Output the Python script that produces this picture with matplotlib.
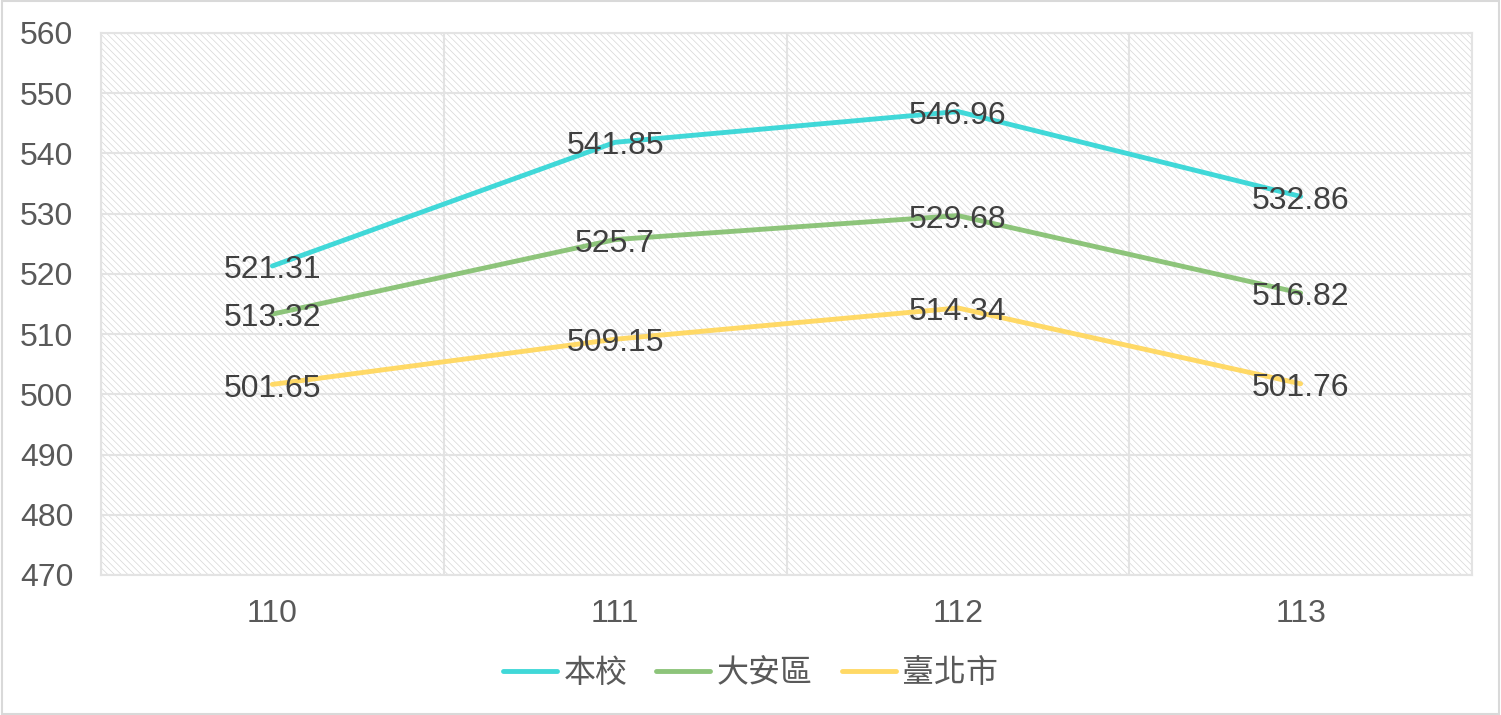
import matplotlib
matplotlib.use("Agg")
import matplotlib.pyplot as plt
from matplotlib.patches import Rectangle

plt.rcParams['font.family'] = ['Liberation Sans', 'Noto Sans CJK TC', 'DejaVu Sans']
plt.rcParams['hatch.color'] = '#d6d6d6'
plt.rcParams['hatch.linewidth'] = 0.5

# data
years = ['110', '111', '112', '113']
school = [521.31, 541.85, 546.96, 532.86]
daan = [513.32, 525.7, 529.68, 516.82]
taipei = [501.65, 509.15, 514.34, 501.76]
series_names = ['本校', '大安區', '臺北市']
colors = ['#40D8D8', '#8DC47A', '#FFD966']

fig = plt.figure(figsize=(15.01, 7.15), dpi=100)
ax = fig.add_axes([101 / 1501, 1 - 575 / 715, (1472 - 101) / 1501, (575 - 33) / 715])

# hatched background
ax.add_patch(Rectangle((0, 0), 1, 1, transform=ax.transAxes, facecolor='white',
                       edgecolor='#d6d6d6', hatch='\\\\\\\\\\', linewidth=0, zorder=0))

x = list(range(len(years)))
for vals, name, c in zip([school, daan, taipei], series_names, colors):
    ax.plot(x, vals, color=c, lw=3.5, label=name, zorder=3, solid_capstyle='round')
    for xi, v in zip(x, vals):
        ax.annotate(f'{v:g}', (xi, v), xytext=(0, -3), textcoords='offset points',
                    ha='center', va='center', fontsize=23, color='#404040', zorder=4)

ax.set_xlim(-0.5, 3.5)
ax.set_ylim(470, 560)
ax.set_yticks(range(470, 561, 10))
ax.set_xticks(x)
ax.set_xticklabels(years)
ax.set_xticks([-0.5, 0.5, 1.5, 2.5, 3.5], minor=True)
ax.grid(True, which='major', axis='y', color='#e3e3e3', lw=1.5, zorder=1)
ax.grid(True, which='minor', axis='x', color='#e3e3e3', lw=1.5, zorder=1)
ax.set_axisbelow(True)
ax.tick_params(axis='both', which='both', length=0, labelsize=23, labelcolor='#595959')
ax.tick_params(axis='x', pad=17)
ax.tick_params(axis='y', pad=20)
for s in ax.spines.values():
    s.set_color('#e3e3e3')
    s.set_linewidth(1.5)

leg = fig.legend(loc='center', bbox_to_anchor=(0.5, 1 - 673 / 715), ncol=3,
                 frameon=False, handlelength=1.7, columnspacing=0.9,
                 handletextpad=0.2, prop={'family': ['Noto Sans CJK TC'], 'size': 23})
for t in leg.get_texts():
    t.set_color('#595959')

fig.add_artist(Rectangle((0.001, 0.001), 0.998, 0.997, transform=fig.transFigure,
                         fill=False, edgecolor='#d9d9d9', lw=1.5))

fig.savefig('out.png', dpi=100)
